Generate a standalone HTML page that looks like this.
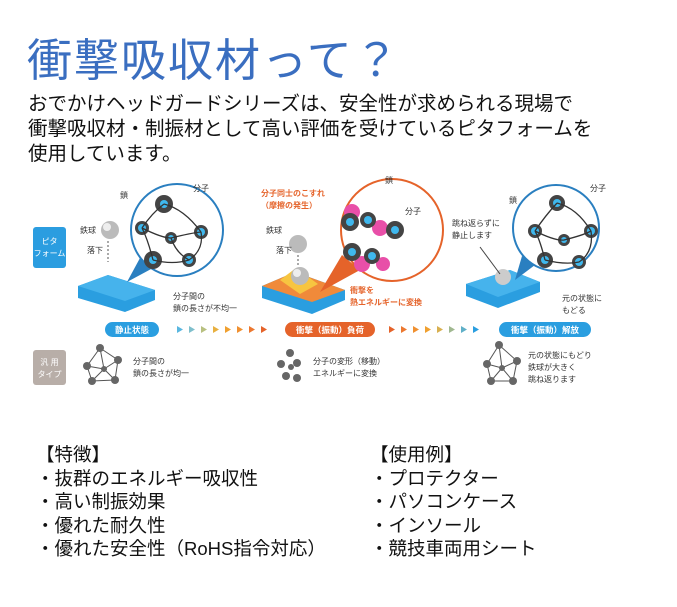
<!DOCTYPE html>
<html><head><meta charset="utf-8"><style>
body{margin:0;width:677px;height:607px;background:#fff;overflow:hidden;font-family:"Liberation Sans","Noto Sans CJK JP",sans-serif}
.t{position:absolute;left:27px;top:24px;font-size:45px;color:#3a6ec0;letter-spacing:2px;white-space:nowrap}
.p{position:absolute;left:28px;top:92px;font-size:19.5px;line-height:25px;color:#111;white-space:nowrap}
.l{position:absolute;top:443px;font-size:18.5px;line-height:23.5px;color:#111;white-space:nowrap}
svg{position:absolute;left:0;top:0}
</style></head><body>
<div class="t">衝撃吸収材って？</div>
<div class="p">おでかけヘッドガードシリーズは、安全性が求められる現場で<br>衝撃吸収材・制振材として高い評価を受けているピタフォームを<br>使用しています。</div>
<svg width="677" height="607" font-family="Liberation Sans,Noto Sans CJK JP,sans-serif">
<rect x="33" y="227" width="33" height="41" rx="3" fill="#2b9de0"/>
<text x="49.5" y="244" font-size="8" fill="#fff" text-anchor="middle">ピタ</text>
<text x="49.5" y="256" font-size="8" fill="#fff" text-anchor="middle">フォーム</text>
<rect x="33" y="350" width="33" height="35" rx="3" fill="#b8aea8"/>
<text x="49.5" y="365" font-size="8" fill="#fff" text-anchor="middle">汎 用</text>
<text x="49.5" y="377" font-size="8" fill="#fff" text-anchor="middle">タイプ</text>
<polygon points="78,286 108,275 155,290 155,300 125,312 78,298" fill="#2a9ee0"/>
<polygon points="78,286 108,275 155,290 125,301" fill="#46b3ec"/>
<circle cx="110" cy="230" r="9" fill="#bbb"/><circle cx="107" cy="227" r="4" fill="#eee"/>
<line x1="108" y1="241" x2="108" y2="262" stroke="#555" stroke-dasharray="2,2"/>
<text x="80" y="233" font-size="8" fill="#333">鉄球</text><text x="87" y="253" font-size="8" fill="#333">落下</text>
<circle cx="177" cy="230" r="46" fill="#fff" stroke="#2a7fc0" stroke-width="2"/>
<polygon points="140,258 153,268 127,282" fill="#2a7fc0"/>
<g fill="#444"><circle cx="164" cy="204" r="9"/><circle cx="142" cy="228" r="7"/><circle cx="171" cy="238" r="6"/><circle cx="201" cy="232" r="7"/><circle cx="153" cy="260" r="9"/><circle cx="189" cy="260" r="7"/></g>
<g fill="#3fb8ee"><circle cx="164" cy="204" r="4"/><circle cx="142" cy="228" r="4"/><circle cx="171" cy="238" r="3"/><circle cx="201" cy="232" r="4"/><circle cx="153" cy="260" r="4"/><circle cx="189" cy="260" r="4"/></g>
<path d="M164,204 q20,5 37,28 M142,228 q10,-15 22,-24 M142,228 q20,10 29,10 q20,-5 30,-6 M153,260 q-5,-20 -11,-32 M153,260 q20,5 36,0 q15,-10 12,-28 M171,238 q5,15 18,22" stroke="#333" stroke-width="1.3" fill="none"/>
<text x="120" y="198" font-size="8" fill="#333">鎖</text><text x="193" y="191" font-size="8" fill="#333">分子</text>
<text x="173" y="299" font-size="8" fill="#333">分子間の</text><text x="173" y="311" font-size="8" fill="#333">鎖の長さが不均一</text>
<polygon points="262,286 295,272 345,290 345,300 312,314 262,298" fill="#2a9ee0"/>
<polygon points="262,286 295,272 345,290 312,302" fill="#f08a3a"/>
<polygon points="280,280 296,268 318,284 300,294" fill="#f7c540"/>
<circle cx="300" cy="276" r="9" fill="#bbb"/><circle cx="297" cy="273" r="4" fill="#eee"/>
<circle cx="298" cy="244" r="9" fill="#bbb"/>
<line x1="298" y1="255" x2="298" y2="266" stroke="#555" stroke-dasharray="2,2"/>
<text x="266" y="233" font-size="8" fill="#333">鉄球</text><text x="276" y="253" font-size="8" fill="#333">落下</text>
<circle cx="392" cy="230" r="51" fill="#fff" stroke="#e5632a" stroke-width="2"/>
<polygon points="342,255 360,270 320,292" fill="#e5632a"/>
<g fill="#e84fa8"><circle cx="352" cy="212" r="8"/><circle cx="380" cy="228" r="8"/><circle cx="362" cy="264" r="8"/><circle cx="383" cy="264" r="7"/></g>
<g fill="#444"><circle cx="350" cy="222" r="9"/><circle cx="368" cy="220" r="8"/><circle cx="395" cy="230" r="9"/><circle cx="352" cy="252" r="9"/><circle cx="372" cy="256" r="8"/></g>
<g fill="#3fb8ee"><circle cx="350" cy="222" r="4"/><circle cx="368" cy="220" r="4"/><circle cx="395" cy="230" r="4"/><circle cx="352" cy="252" r="4"/><circle cx="372" cy="256" r="4"/></g>
<text x="261" y="196" font-size="8" fill="#e5632a" font-weight="bold">分子同士のこすれ</text><text x="261" y="208" font-size="8" fill="#e5632a" font-weight="bold">（摩擦の発生）</text>
<text x="385" y="183" font-size="8" fill="#333">鎖</text><text x="405" y="214" font-size="8" fill="#333">分子</text>
<text x="350" y="293" font-size="8" fill="#e5632a" font-weight="bold">衝撃を</text><text x="350" y="305" font-size="8" fill="#e5632a" font-weight="bold">熱エネルギーに変換</text>
<polygon points="466,284 510,270 540,282 540,292 498,308 466,296" fill="#2a9ee0"/>
<polygon points="466,284 510,270 540,282 498,297" fill="#46b3ec"/>
<circle cx="503" cy="277" r="8" fill="#ccc"/>
<line x1="480" y1="247" x2="500" y2="274" stroke="#444"/>
<text x="452" y="226" font-size="8" fill="#333">跳ね返らずに</text><text x="452" y="238" font-size="8" fill="#333">静止します</text>
<circle cx="556" cy="228" r="43" fill="#fff" stroke="#2a7fc0" stroke-width="2"/>
<polygon points="522,256 535,265 515,280" fill="#2a7fc0"/>
<g fill="#444"><circle cx="557" cy="203" r="8"/><circle cx="535" cy="231" r="7"/><circle cx="564" cy="240" r="6"/><circle cx="591" cy="231" r="7"/><circle cx="545" cy="260" r="8"/><circle cx="579" cy="262" r="7"/></g>
<g fill="#3fb8ee"><circle cx="557" cy="203" r="4"/><circle cx="535" cy="231" r="4"/><circle cx="564" cy="240" r="3"/><circle cx="591" cy="231" r="4"/><circle cx="545" cy="260" r="4"/><circle cx="579" cy="262" r="4"/></g>
<path d="M557,203 q20,5 34,28 M535,231 q10,-15 22,-28 M535,231 q20,10 29,9 q20,-5 27,-9 M545,260 q-5,-20 -10,-29 M545,260 q20,5 34,2 q15,-10 12,-31" stroke="#333" stroke-width="1.3" fill="none"/>
<text x="509" y="203" font-size="8" fill="#333">鎖</text><text x="590" y="191" font-size="8" fill="#333">分子</text>
<text x="562" y="301" font-size="8" fill="#333">元の状態に</text><text x="562" y="313" font-size="8" fill="#333">もどる</text>
<rect x="105" y="322" width="54" height="15" rx="7.5" fill="#2a9ee0"/><text x="132" y="333" font-size="8.5" fill="#fff" text-anchor="middle" font-weight="bold">静止状態</text>
<rect x="285" y="322" width="90" height="15" rx="7.5" fill="#e5632a"/><text x="330" y="333" font-size="8.5" fill="#fff" text-anchor="middle" font-weight="bold">衝撃（振動）負荷</text>
<rect x="499" y="322" width="92" height="15" rx="7.5" fill="#2a9ee0"/><text x="545" y="333" font-size="8.5" fill="#fff" text-anchor="middle" font-weight="bold">衝撃（振動）解放</text>
<g><polygon points="177,326 183,329.5 177,333" fill="#5ab7e0"/><polygon points="189,326 195,329.5 189,333" fill="#7fbfcc"/><polygon points="201,326 207,329.5 201,333" fill="#b8c080"/><polygon points="213,326 219,329.5 213,333" fill="#e8b040"/><polygon points="225,326 231,329.5 225,333" fill="#f0a030"/><polygon points="237,326 243,329.5 237,333" fill="#f09030"/><polygon points="249,326 255,329.5 249,333" fill="#ec7830"/><polygon points="261,326 267,329.5 261,333" fill="#e5632a"/></g>
<g><polygon points="389,326 395,329.5 389,333" fill="#e5632a"/><polygon points="401,326 407,329.5 401,333" fill="#ec7830"/><polygon points="413,326 419,329.5 413,333" fill="#f09030"/><polygon points="425,326 431,329.5 425,333" fill="#f0a030"/><polygon points="437,326 443,329.5 437,333" fill="#d8b050"/><polygon points="449,326 455,329.5 449,333" fill="#a0b890"/><polygon points="461,326 467,329.5 461,333" fill="#60b0c8"/><polygon points="473,326 479,329.5 473,333" fill="#2a9ee0"/></g>
<g stroke="#555" stroke-width="1" fill="none"><path d="M100,348 L87,366 L92,381 L115,380 L118,360 Z M100,348 L104,369 L87,366 M104,369 L92,381 M104,369 L115,380 M104,369 L118,360"/></g>
<g fill="#666"><circle cx="100" cy="348" r="4"/><circle cx="87" cy="366" r="4"/><circle cx="92" cy="381" r="4"/><circle cx="115" cy="380" r="4"/><circle cx="118" cy="360" r="4"/><circle cx="104" cy="369" r="3"/></g>
<text x="133" y="364" font-size="8" fill="#333">分子間の</text><text x="133" y="376" font-size="8" fill="#333">鎖の長さが均一</text>
<g fill="#666"><circle cx="290" cy="353" r="4"/><circle cx="281" cy="364" r="4"/><circle cx="297" cy="363" r="4"/><circle cx="286" cy="376" r="4"/><circle cx="297" cy="378" r="4"/><circle cx="291" cy="367" r="3"/></g>
<text x="313" y="364" font-size="8" fill="#333">分子の変形（移動）</text><text x="313" y="376" font-size="8" fill="#333">エネルギーに変換</text>
<g stroke="#555" fill="none"><path d="M499,345 L487,364 L491,381 L513,381 L517,361 Z M499,345 L502,368 M487,364 L502,368 M491,381 L502,368 M513,381 L502,368 M517,361 L502,368"/></g>
<g fill="#666"><circle cx="499" cy="345" r="4"/><circle cx="487" cy="364" r="4"/><circle cx="491" cy="381" r="4"/><circle cx="513" cy="381" r="4"/><circle cx="517" cy="361" r="4"/><circle cx="502" cy="368" r="3"/></g>
<text x="528" y="358" font-size="8" fill="#333">元の状態にもどり</text><text x="528" y="370" font-size="8" fill="#333">鉄球が大きく</text><text x="528" y="382" font-size="8" fill="#333">跳ね返ります</text>
</svg>
<div class="l" style="left:36px">【特徴】<br>・抜群のエネルギー吸収性<br>・高い制振効果<br>・優れた耐久性<br>・優れた安全性（RoHS指令対応）</div>
<div class="l" style="left:370px">【使用例】<br>・プロテクター<br>・パソコンケース<br>・インソール<br>・競技車両用シート</div>
</body></html>
